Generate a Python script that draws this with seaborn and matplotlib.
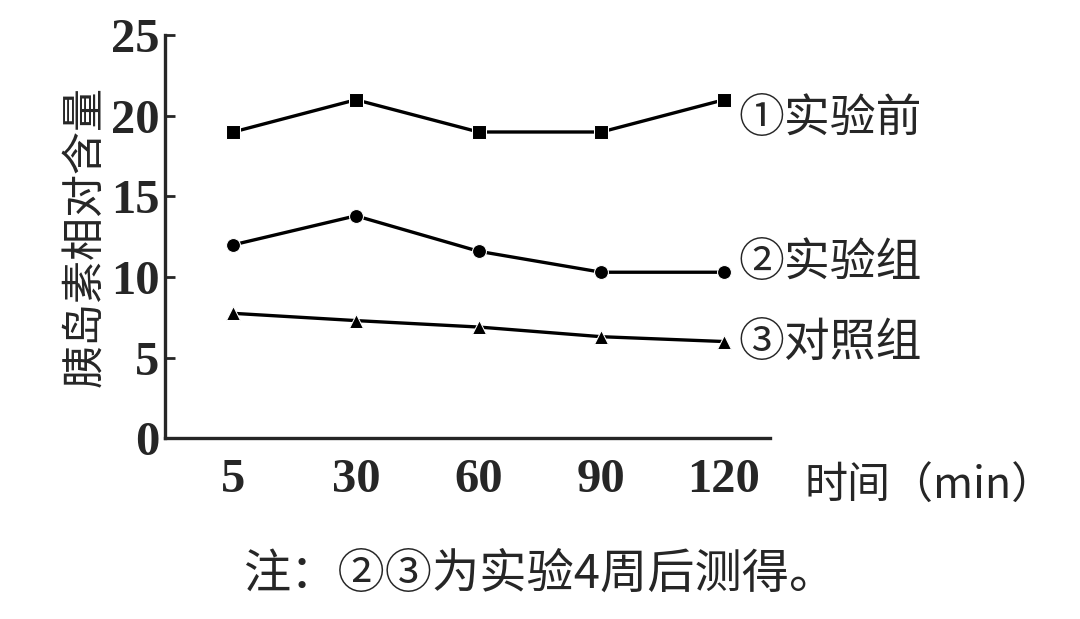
import numpy as np
import pandas as pd
import seaborn as sns
import matplotlib.pyplot as plt

times = ["5", "30", "60", "90", "120"]
before = [19.0, 21.0, 19.0, 19.0, 21.0]
experiment = [12.0, 13.8, 11.6, 10.3, 10.3]
control = [7.75, 7.3, 6.9, 6.3, 6.0]
series_names = ["①实验前", "②实验组", "③对照组"]

sns.set_style("ticks")
plt.rcParams['font.family'] = ['Noto Sans CJK SC', 'DejaVu Sans']

rows = []
for name, vals in zip(series_names, [before, experiment, control]):
    for i, v in enumerate(vals):
        rows.append({"pos": i, "value": v, "series": name})
df = pd.DataFrame(rows)

fig = plt.figure(figsize=(10.8, 6.19), dpi=100)
ax = fig.add_axes([0.153, 0.292, 0.56, 0.651])
markers = {"①实验前": "s", "②实验组": "o", "③对照组": "^"}
sns.lineplot(data=df, x="pos", y="value", hue="series", style="series",
             markers=markers, dashes=False, palette=["black"] * 3,
             markersize=10, linewidth=2.4, legend=False, ax=ax)

ax.set_xlim(-0.554, 4.375)
ax.set_ylim(0, 25)
ax.set_yticks([0, 5, 10, 15, 20, 25])
ax.set_xticks(range(len(times)))
num_font = dict(family="Liberation Serif", weight="bold", size=35)
ax.set_xticklabels(times, **num_font)
ax.set_yticklabels([str(t) for t in [0, 5, 10, 15, 20, 25]], **num_font)
ax.tick_params(axis="x", length=0, pad=14)
ax.tick_params(axis="y", direction="in", length=7, width=2, pad=4)
for s in ["top", "right"]:
    ax.spines[s].set_visible(False)
for s in ["left", "bottom"]:
    ax.spines[s].set_linewidth(2.4)
ax.set_xlabel("")
ax.set_ylabel("胰岛素相对含量", fontsize=31, labelpad=2)

label_y = [before[-1] - 1.2, experiment[-1] + 0.6, control[-1] - 0.1]
for name, y in zip(series_names, label_y):
    ax.text(4.12, y, name, fontsize=33, va="center", ha="left", clip_on=False)

fig.text(0.745, 0.213, "时间（min）", fontsize=31, va="center", ha="left")
fig.text(0.5, 0.072, "注：②③为实验4周后测得。", fontsize=34, va="center", ha="center")

fig.savefig("out.png", dpi=100)
